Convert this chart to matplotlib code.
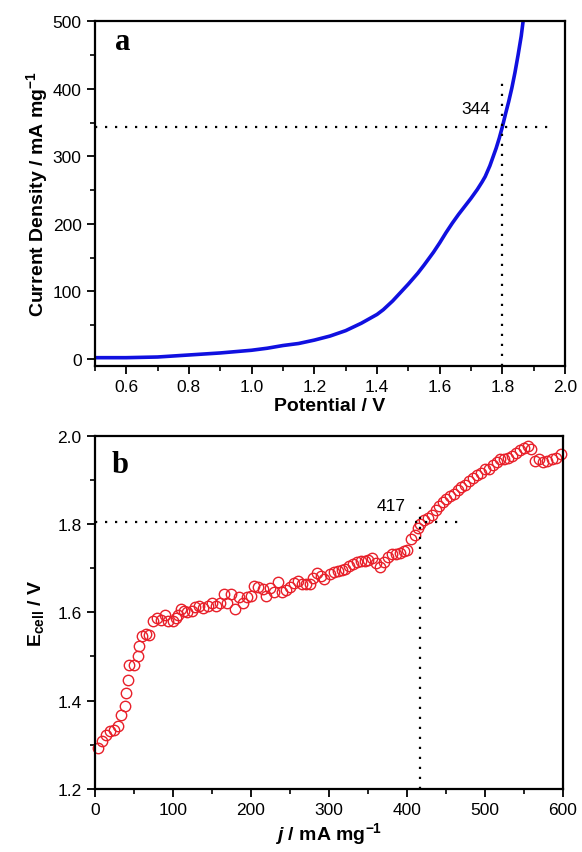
import matplotlib
matplotlib.use("Agg")
import matplotlib.pyplot as plt
from matplotlib.ticker import MultipleLocator
import numpy as np

plt.rcParams['font.family'] = ['Liberation Sans', 'DejaVu Sans']
plt.rcParams['mathtext.fontset'] = 'custom'
plt.rcParams['mathtext.rm'] = 'Liberation Sans:bold'
plt.rcParams['mathtext.it'] = 'Liberation Sans:bold:italic'
plt.rcParams['mathtext.bf'] = 'Liberation Sans:bold'

# Panel a: polarization curve
potential = [0.50, 0.60, 0.70, 0.80, 0.90, 1.00, 1.05, 1.10, 1.15, 1.20, 1.25, 1.30, 1.35,
             1.40, 1.42, 1.45, 1.48, 1.50, 1.53, 1.55, 1.58, 1.60, 1.62, 1.64, 1.66, 1.68,
             1.70, 1.72, 1.735, 1.745, 1.76, 1.78, 1.79, 1.80, 1.81, 1.82, 1.83, 1.84,
             1.85, 1.86, 1.866]
current = [2, 2, 3, 6, 9, 13, 16, 20, 23, 28, 34, 42, 53,
           66, 73, 86, 101, 111, 127, 139, 158, 172, 187, 201, 214, 226,
           238, 251, 262, 270, 286, 312, 327, 344, 363, 381, 401, 424,
           450, 478, 500]

# Panel b: cell voltage vs current density
j_vals = [4, 9, 14, 19, 24, 30, 34, 38, 39.5, 42, 44, 50, 55, 56, 60, 65, 70, 75, 80, 85,
          90, 94, 100, 104, 107, 110, 114, 118, 124, 129, 134, 139, 145, 150, 155, 160,
          165, 170, 175, 180, 185, 190, 195, 200, 204, 209, 215, 220, 225, 230, 235, 240,
          245, 250, 255, 261, 266, 271, 276, 280, 285, 290, 294, 301.7, 306.7, 311.7,
          316.7, 320.8, 325.8, 330.8, 335.8, 340.8, 345.8, 350.8, 355.8, 360, 365.8,
          370.8, 375.8, 380.8, 385.8, 390.8, 395.8, 400.8, 405, 410, 414, 417.5, 422.5,
          427.5, 432.5, 437.5, 441.7, 446.7, 450.8, 455.8, 460.8, 465.8, 470, 475, 480,
          485, 490, 495, 500, 505, 510, 515, 520, 525, 530, 535, 540, 545, 550, 555, 559,
          565, 570, 575, 580, 586, 591.7, 597.5]
e_cell = [1.292, 1.309, 1.322, 1.330, 1.334, 1.343, 1.368, 1.387, 1.418, 1.447, 1.481,
          1.481, 1.500, 1.523, 1.546, 1.551, 1.548, 1.580, 1.586, 1.582, 1.595, 1.580,
          1.580, 1.586, 1.594, 1.607, 1.603, 1.600, 1.602, 1.611, 1.614, 1.609, 1.615,
          1.620, 1.615, 1.621, 1.641, 1.622, 1.641, 1.608, 1.635, 1.622, 1.634, 1.637,
          1.660, 1.658, 1.653, 1.637, 1.656, 1.645, 1.668, 1.645, 1.650, 1.658, 1.666,
          1.670, 1.664, 1.664, 1.664, 1.678, 1.688, 1.683, 1.676, 1.687, 1.691, 1.694,
          1.695, 1.697, 1.704, 1.710, 1.714, 1.716, 1.716, 1.718, 1.724, 1.712, 1.703,
          1.714, 1.726, 1.732, 1.732, 1.735, 1.739, 1.742, 1.766, 1.775, 1.790, 1.800,
          1.809, 1.813, 1.821, 1.831, 1.840, 1.849, 1.857, 1.863, 1.869, 1.877, 1.883,
          1.889, 1.897, 1.905, 1.911, 1.916, 1.924, 1.925, 1.933, 1.941, 1.947, 1.947,
          1.950, 1.954, 1.962, 1.968, 1.973, 1.977, 1.971, 1.943, 1.947, 1.941, 1.943,
          1.947, 1.950, 1.958]

mark_a = (1.80, 344)
mark_b = (417, 1.805)

fig = plt.figure(figsize=(5.82, 8.53), dpi=100)
axa = fig.add_axes([0.163, 0.570, 0.808, 0.404])
axb = fig.add_axes([0.163, 0.074, 0.804, 0.414])

for ax in (axa, axb):
    for s in ax.spines.values():
        s.set_linewidth(1.6)
    ax.tick_params(which='major', direction='out', length=6, width=1.3, labelsize=12.5)
    ax.tick_params(which='minor', direction='out', length=3.5, width=1.2)

# Panel a
axa.plot(potential, current, color='#1010e0', lw=2.6, solid_joinstyle='round')
axa.plot([0.5, 1.965], [mark_a[1], mark_a[1]], ls=(0, (1, 3.5)), color='black', lw=1.6)
axa.plot([mark_a[0], mark_a[0]], [-10, 411], ls=(0, (1, 3.5)), color='black', lw=1.6)
axa.text(1.715, 371, '344', fontsize=12.5, ha='center', va='center')
axa.text(0.565, 470, 'a', fontsize=22, fontweight='bold', family='Liberation Serif', va='center')
axa.set_xlim(0.5, 2.0)
axa.set_ylim(-10, 500)
axa.xaxis.set_minor_locator(MultipleLocator(0.1))
axa.yaxis.set_major_locator(MultipleLocator(100))
axa.yaxis.set_minor_locator(MultipleLocator(50))
axa.set_xticks(np.arange(0.6, 2.01, 0.2))
axa.set_xticklabels(['0.6', '0.8', '1.0', '1.2', '1.4', '1.6', '1.8', '2.0'])
axa.set_xlabel('Potential / V', fontsize=14, fontweight='bold', labelpad=2)
axa.set_ylabel('Current Density / mA mg$^{-1}$', fontsize=14, fontweight='bold', labelpad=2)

# Panel b
axb.plot(j_vals, e_cell, ls='none', marker='o', ms=7.5, mfc='none', mec='#e8202a', mew=1.0,
         clip_on=False)
axb.plot([0, 473], [mark_b[1], mark_b[1]], ls=(0, (1, 3.5)), color='black', lw=1.6)
axb.plot([mark_b[0], mark_b[0]], [1.2, 1.857], ls=(0, (1, 3.5)), color='black', lw=1.6)
axb.text(380, 1.842, '417', fontsize=12.5, ha='center', va='center')
axb.text(22, 1.935, 'b', fontsize=22, fontweight='bold', family='Liberation Serif', va='center')
axb.set_xlim(0, 600)
axb.set_ylim(1.2, 2.0)
axb.xaxis.set_major_locator(MultipleLocator(100))
axb.xaxis.set_minor_locator(MultipleLocator(50))
axb.yaxis.set_major_locator(MultipleLocator(0.2))
axb.yaxis.set_minor_locator(MultipleLocator(0.1))
axb.set_xlabel('$j$ / mA mg$^{-1}$', fontsize=14, fontweight='bold', labelpad=2)
axb.set_ylabel('E$_{\\mathrm{cell}}$ / V', fontsize=14, fontweight='bold', labelpad=8)

fig.savefig('out.png', dpi=100)
